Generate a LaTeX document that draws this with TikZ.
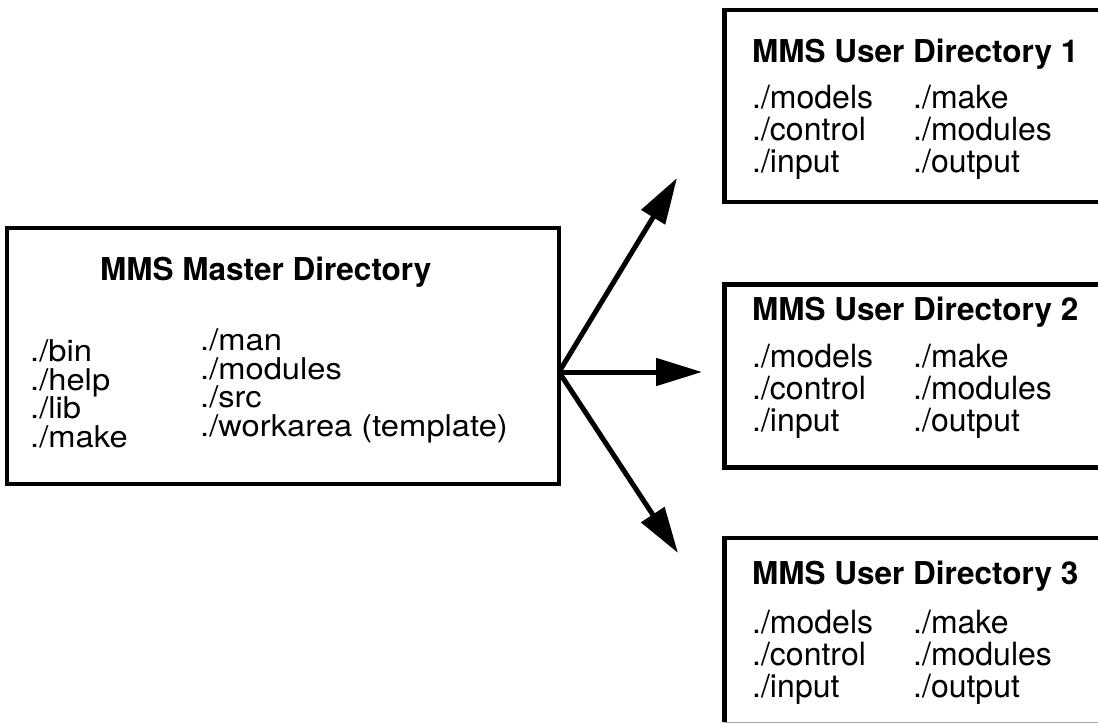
\documentclass[tikz,border=0pt]{standalone}
\usepackage{fontspec}
\setmainfont{TeX Gyre Heros}
\newfontfamily\widefont[FakeStretch=1.09]{TeX Gyre Heros}
\usetikzlibrary{arrows.meta}
\usetikzlibrary{positioning}
\tikzset{
    dirbox/.style = {rectangle, line width=4.5pt, draw=black, fill=none, inner sep=0pt},
    dirtitle/.style = {anchor=base west, inner sep=0pt, font=\fontsize{31.5}{31.5}\selectfont\bfseries},
    dirlistm/.style = {anchor=west, inner sep=0pt, align=left, font=\widefont\fontsize{30}{28.5}\selectfont},
    dirlistu/.style = {anchor=west, inner sep=0pt, align=left, font=\fontsize{32}{32}\selectfont},
    fanarrow/.style = {line width=5pt, -{Triangle[length=46pt,width=27pt]}},
}

\begin{document}
\begin{tikzpicture}[x=1pt,y=-1pt]
\clip (0,0) rectangle (1098,727);

% master directory
\node[dirbox, minimum width=552pt, minimum height=256pt] at (283,356) (master) {};
\node[dirtitle] at (100,281) (mtitle) {MMS Master Directory};
\node[dirlistm] at (30,394) (mleft) {./bin\\./help\\./lib\\./make};
\node[dirlistm] at (200,386) (mright) {./man\\./modules\\./src\\./workarea (template)};

% user directories
\node[dirbox, minimum width=385pt, minimum height=192pt] at (917,106) (user1) {};
\node[dirtitle] at (752,63) (u1title) {MMS User Directory 1};
\node[dirlistu] at (752,132) (u1left) {./models\\./control\\./input};
\node[dirlistu] at (913,132) (u1right) {./make\\./modules\\./output};

\node[dirbox, minimum width=385pt, minimum height=183pt] at (917,376) (user2) {};
\node[dirtitle] at (752,321) (u2title) {MMS User Directory 2};
\node[dirlistu] at (752,391) (u2left) {./models\\./control\\./input};
\node[dirlistu] at (913,391) (u2right) {./make\\./modules\\./output};

\node[minimum width=385pt, minimum height=184pt, inner sep=0pt] at (917,630) (user3) {};
\draw[line width=1.2pt, gray!70] (user3.south west) -- (user3.south east);
\draw[line width=4.5pt] (user3.south west) -- (user3.north west) -- (user3.north east);
\node[dirtitle] at (752,584) (u3title) {MMS User Directory 3};
\node[dirlistu] at (752,657) (u3left) {./models\\./control\\./input};
\node[dirlistu] at (913,657) (u3right) {./make\\./modules\\./output};

% arrows
\coordinate (fork) at (559,372);
\coordinate (tip1) at (677,178);
\coordinate (tip2) at (702,372);
\coordinate (tip3) at (678,553);
\draw[fanarrow] (fork) -- (tip1);
\draw[fanarrow] (fork) -- (tip2);
\draw[fanarrow] (fork) -- (tip3);

\end{tikzpicture}
\end{document}
